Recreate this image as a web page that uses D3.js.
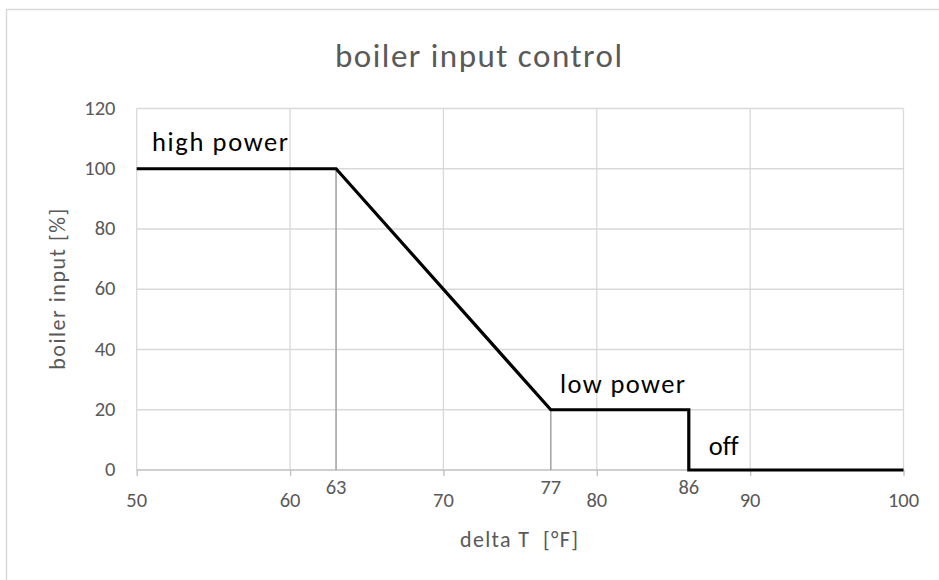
<!DOCTYPE html>
<html>
<head>
<meta charset="utf-8">
<script src="https://cdn.jsdelivr.net/npm/d3@7"></script>
<style>
  html, body { margin: 0; padding: 0; background: #ffffff; }
  svg { display: block; font-family: Carlito, Calibri, Lato, "Open Sans", sans-serif; font-variant-ligatures: none; }
</style>
</head>
<body>
<svg id="chart" width="939" height="580"></svg>
<script>
// Control curve: boiler input [%] versus delta T [°F]
const curveT     = [50, 63, 77, 86, 86, 100];
const curveInput = [100, 100, 20, 20, 0, 0];

// Thin reference drops from the two break points down to the axis
const dropT      = [63, 77];
const dropInput  = [100, 20];

// Axis ticks
const xTicks     = [50, 60, 70, 80, 90, 100];
const xMarkers   = [63, 77, 86];
const yTicks     = [0, 20, 40, 60, 80, 100, 120];

// Region annotations
const zoneNames  = ["high power", "low power", "off"];
const zoneT      = [51, 77.6, 87.3];
const zoneInput  = [106, 25.5, 5];

const svg = d3.select("#chart");
const W = 939, H = 580;
const plot = { left: 136.7, right: 903.5, top: 108.5, bottom: 470 };

const x = d3.scaleLinear().domain([50, 100]).range([plot.left, plot.right]);
const y = d3.scaleLinear().domain([0, 120]).range([plot.bottom, plot.top]);

const grey = "#595959";

// Outer frame (top and left edges fall inside the canvas)
svg.append("rect")
  .attr("x", 6.5).attr("y", 9.5)
  .attr("width", W + 20).attr("height", H + 20)
  .attr("fill", "none").attr("stroke", "#d9d9d9").attr("stroke-width", 1.5);

// Title
svg.append("text")
  .attr("x", 478.5).attr("y", 67)
  .attr("text-anchor", "middle")
  .attr("font-size", 33).attr("fill", grey)
  .attr("textLength", 287).attr("lengthAdjust", "spacing")
  .text("boiler input control");

// Horizontal gridlines
svg.append("g").selectAll("line")
  .data(yTicks.filter(d => d > 0))
  .join("line")
  .attr("x1", plot.left).attr("x2", plot.right)
  .attr("y1", d => y(d)).attr("y2", d => y(d))
  .attr("stroke", "#d9d9d9").attr("stroke-width", 1.3);

// Vertical gridlines
svg.append("g").selectAll("line")
  .data(xTicks)
  .join("line")
  .attr("x1", d => x(d)).attr("x2", d => x(d))
  .attr("y1", plot.top).attr("y2", plot.bottom)
  .attr("stroke", "#d9d9d9").attr("stroke-width", 1.3);

// X axis line with tick marks below it
const xAxis = d3.axisBottom(x).tickValues(xTicks).tickSize(6).tickFormat("");
const gx = svg.append("g").attr("transform", `translate(0,${plot.bottom})`).call(xAxis);
gx.select(".domain").attr("stroke", "#bfbfbf").attr("stroke-width", 1.5)
  .attr("d", `M${plot.left},0H${plot.right}`);
gx.selectAll(".tick line").attr("stroke", "#bfbfbf").attr("stroke-width", 1.3);

// X tick labels
svg.append("g").selectAll("text")
  .data(xTicks)
  .join("text")
  .attr("x", d => x(d)).attr("y", 507)
  .attr("text-anchor", "middle")
  .attr("font-size", 20.5).attr("fill", grey)
  .text(d => d);

// Break point labels, set slightly higher than the regular ticks
svg.append("g").selectAll("text")
  .data(xMarkers)
  .join("text")
  .attr("x", d => x(d)).attr("y", 494)
  .attr("text-anchor", "middle")
  .attr("font-size", 20.5).attr("fill", grey)
  .text(d => d);

// Y tick labels
svg.append("g").selectAll("text")
  .data(yTicks)
  .join("text")
  .attr("x", 115.5).attr("y", d => y(d) + 6)
  .attr("text-anchor", "end")
  .attr("font-size", 20.5).attr("fill", grey)
  .text(d => d);

// Axis titles
svg.append("text")
  .attr("x", 519).attr("y", 547)
  .attr("text-anchor", "middle")
  .attr("font-size", 22).attr("fill", grey)
  .attr("textLength", 118).attr("lengthAdjust", "spacing")
  .style("white-space", "pre")
  .text("delta T  [°F]");

svg.append("text")
  .attr("transform", `translate(65,${(plot.top + plot.bottom) / 2}) rotate(-90)`)
  .attr("text-anchor", "middle")
  .attr("font-size", 22).attr("fill", grey)
  .attr("textLength", 161).attr("lengthAdjust", "spacing")
  .text("boiler input [%]");

// Drop lines from the break points
svg.append("g").selectAll("line")
  .data(dropT)
  .join("line")
  .attr("x1", d => x(d)).attr("x2", d => x(d))
  .attr("y1", (d, i) => y(dropInput[i])).attr("y2", y(0))
  .attr("stroke", "#a6a6a6").attr("stroke-width", 1.6);

// Control curve
const line = d3.line().x(d => x(d[0])).y(d => y(d[1]));
svg.append("path")
  .datum(curveT.map((t, i) => [t, curveInput[i]]))
  .attr("d", line)
  .attr("fill", "none").attr("stroke", "#000000")
  .attr("stroke-width", 3.2).attr("stroke-linejoin", "miter");

// Zone annotations
const zoneWidths = [136, 125, null];
svg.append("g").selectAll("text")
  .data(zoneNames)
  .join("text")
  .attr("x", (d, i) => x(zoneT[i]))
  .attr("y", (d, i) => y(zoneInput[i]))
  .attr("font-size", 26.5).attr("fill", "#000000")
  .each(function (d, i) {
    if (zoneWidths[i]) {
      d3.select(this).attr("textLength", zoneWidths[i]).attr("lengthAdjust", "spacing");
    }
  })
  .text(d => d);
</script>
</body>
</html>
